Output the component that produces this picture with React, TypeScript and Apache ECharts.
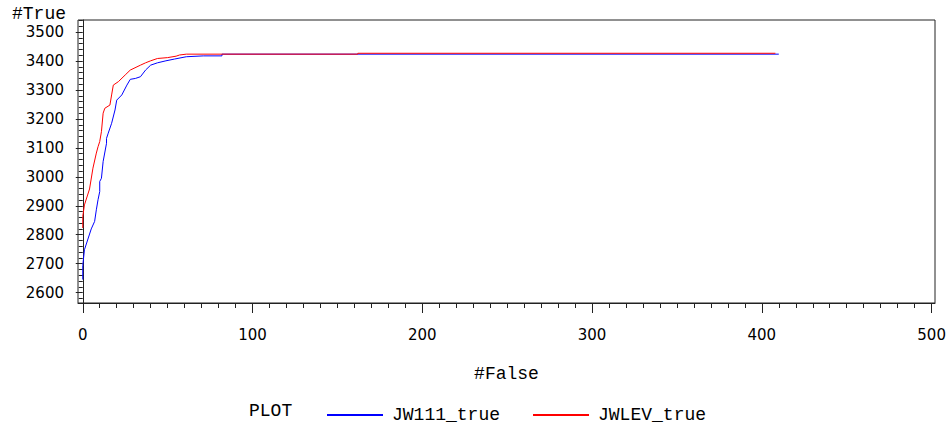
import React, { useEffect, useRef } from "react";
import * as echarts from "echarts";

const blueName = "JW111_true";
const redName = "JWLEV_true";

const blueX = [0, 0, 1, 5, 7, 8, 9, 10, 10, 11, 12, 14, 14, 15, 17, 19, 20, 23, 26, 28, 31, 34, 37, 40, 44, 49, 54, 61, 71, 82, 82, 410];
const blueY = [2645, 2693, 2748, 2820, 2846, 2886, 2921, 2949, 2984, 2995, 3053, 3116, 3133, 3151, 3185, 3231, 3265, 3283, 3317, 3337, 3340, 3346, 3369, 3386, 3394, 3401, 3407, 3415, 3418, 3418, 3424, 3424];

const redX = [0, 0, 1, 4, 6, 8, 9, 10, 11, 12, 13, 16, 17, 18, 21, 25, 28, 34, 37, 40, 44, 50, 55, 57, 61, 162, 162, 408];
const redY = [2823, 2863, 2903, 2958, 3030, 3082, 3104, 3122, 3156, 3220, 3237, 3248, 3283, 3317, 3329, 3352, 3369, 3386, 3394, 3401, 3409, 3412, 3417, 3421, 3424, 3424, 3427, 3427];

const xMajor = [0, 100, 200, 300, 400, 500];
const xMinor = [10, 20, 30, 40, 50, 60, 70, 80, 90, 110, 120, 130, 140, 150, 160, 170, 180, 190, 210, 220, 230, 240, 250, 260, 270, 280, 290, 310, 320, 330, 340, 350, 360, 370, 380, 390, 410, 420, 430, 440, 450, 460, 470, 480, 490];
const yMajor = [2600, 2700, 2800, 2900, 3000, 3100, 3200, 3300, 3400, 3500];
const yMinor = [2580, 2620, 2640, 2660, 2680, 2720, 2740, 2760, 2780, 2820, 2840, 2860, 2880, 2920, 2940, 2960, 2980, 3020, 3040, 3060, 3080, 3120, 3140, 3160, 3180, 3220, 3240, 3260, 3280, 3320, 3340, 3360, 3380, 3420, 3440, 3460, 3480, 3520, 3540];

const X_MIN = -2.8;
const X_MAX = 502;
const Y_MIN = 2564;
const Y_MAX = 3542;

const mono = "Liberation Mono, Courier New, monospace";
const sans = "DejaVu Sans, sans-serif";
const axisColor = "#222";

export default function App() {
  const ref = useRef<HTMLDivElement>(null);
  useEffect(() => {
    if (!ref.current) return;
    const chart = echarts.init(ref.current, undefined, { renderer: "svg" });
    const pairs = (xs: number[], ys: number[]) => xs.map((x, i) => [x, ys[i]]);
    const plain = (v: number) => String(v);
    const baseX = {
      type: "value" as const,
      min: X_MIN,
      max: X_MAX,
      position: "bottom" as const,
      splitLine: { show: false },
    };
    const baseY = {
      type: "value" as const,
      min: Y_MIN,
      max: Y_MAX,
      position: "left" as const,
      splitLine: { show: false },
    };
    chart.setOption({
      animation: false,
      backgroundColor: "#fff",
      grid: {
        left: 78,
        right: 17,
        top: 20,
        bottom: 126,
        show: true,
        borderColor: axisColor,
        borderWidth: 1,
        backgroundColor: "transparent",
      },
      xAxis: [
        {
          ...baseX,
          name: "#False",
          nameLocation: "middle",
          nameGap: 62,
          nameTextStyle: { fontFamily: mono, fontSize: 18, color: "#000" },
          axisLine: { show: true, lineStyle: { color: axisColor, width: 1 } },
          axisTick: { show: true, customValues: xMajor, length: 10, lineStyle: { color: axisColor } },
          axisLabel: { show: true, customValues: xMajor, formatter: plain, margin: 24, fontFamily: sans, fontSize: 15, color: "#000" },
        },
        {
          ...baseX,
          axisLine: { show: false },
          axisTick: { show: true, customValues: xMinor, length: 5, lineStyle: { color: axisColor } },
          axisLabel: { show: false },
        },
      ],
      yAxis: [
        {
          ...baseY,
          axisLine: { show: true, lineStyle: { color: axisColor, width: 1 } },
          axisTick: { show: true, customValues: yMajor, length: 7, lineStyle: { color: axisColor } },
          axisLabel: { show: true, customValues: yMajor, formatter: plain, margin: 14, fontFamily: sans, fontSize: 15, color: "#000" },
        },
        {
          ...baseY,
          axisLine: { show: false },
          axisTick: { show: true, customValues: yMinor, length: 4, lineStyle: { color: axisColor } },
          axisLabel: { show: false },
        },
      ],
      legend: {
        data: [blueName, redName],
        left: 322,
        top: 401,
        icon: "rect",
        itemWidth: 56,
        itemHeight: 2,
        itemGap: 33,
        textStyle: { fontFamily: mono, fontSize: 18, color: "#000", padding: [0, 0, 0, 4] },
      },
      graphic: [
        {
          type: "text",
          left: 12,
          top: 5,
          style: { text: "#True", fontFamily: mono, fontSize: 18, fill: "#000" },
        },
        {
          type: "text",
          left: 249,
          top: 402,
          style: { text: "PLOT", fontFamily: mono, fontSize: 18, fill: "#000" },
        },
      ],
      series: [
        {
          name: blueName,
          type: "line",
          xAxisIndex: 0,
          yAxisIndex: 0,
          data: pairs(blueX, blueY),
          showSymbol: false,
          symbol: "none",
          lineStyle: { color: "#0000ff", width: 1 },
          itemStyle: { color: "#0000ff" },
        },
        {
          name: redName,
          type: "line",
          xAxisIndex: 0,
          yAxisIndex: 0,
          data: pairs(redX, redY),
          showSymbol: false,
          symbol: "none",
          lineStyle: { color: "#ff0000", width: 1 },
          itemStyle: { color: "#ff0000" },
        },
      ],
    });
    return () => chart.dispose();
  }, []);
  return (
    <div
      ref={ref}
      style={{ position: "absolute", left: 0, top: 0, width: 952, height: 429, background: "#fff" }}
    />
  );
}
